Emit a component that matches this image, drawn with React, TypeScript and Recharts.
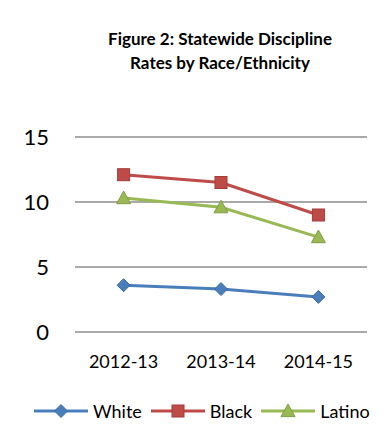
import React from "react";
import { LineChart, Line, XAxis, YAxis, CartesianGrid, Legend } from "recharts";

const years = ["2012-13", "2013-14", "2014-15"];
const white = [3.6, 3.3, 2.7];
const black = [12.1, 11.5, 9.0];
const latino = [10.3, 9.6, 7.3];
const yTicks = [0, 5, 10, 15];

const data = years.map((year, i) => ({
  year,
  White: white[i],
  Black: black[i],
  Latino: latino[i],
}));

const FONT = "Lato, 'Open Sans', sans-serif";

type MarkerKind = "diamond" | "square" | "triangle";

const series: { key: string; color: string; edge: string; marker: MarkerKind }[] = [
  { key: "White", color: "#4a7ebb", edge: "#3c6aa3", marker: "diamond" },
  { key: "Black", color: "#be4b48", edge: "#a33d3a", marker: "square" },
  { key: "Latino", color: "#98b954", edge: "#7f9d44", marker: "triangle" },
];

function markerShape(kind: MarkerKind, cx: number, cy: number, fill: string, edge: string) {
  if (kind === "diamond") {
    const r = 6.5;
    return (
      <path
        d={`M${cx},${cy - r}L${cx + r},${cy}L${cx},${cy + r}L${cx - r},${cy}Z`}
        fill={fill}
        stroke={edge}
        strokeWidth={1}
      />
    );
  }
  if (kind === "square") {
    const r = 6;
    return <rect x={cx - r} y={cy - r} width={r * 2} height={r * 2} fill={fill} stroke={edge} strokeWidth={1} />;
  }
  const r = 7;
  return (
    <path
      d={`M${cx},${cy - r}L${cx + r},${cy + r * 0.8}L${cx - r},${cy + r * 0.8}Z`}
      fill={fill}
      stroke={edge}
      strokeWidth={1}
    />
  );
}

function makeDot(kind: MarkerKind, fill: string, edge: string) {
  return (props: any) => {
    const { cx, cy, index } = props;
    if (cx == null || cy == null) return <g key={`dot-${kind}-${index}`} />;
    return <g key={`dot-${kind}-${index}`}>{markerShape(kind, cx, cy, fill, edge)}</g>;
  };
}

function LegendContent() {
  return (
    <div style={{ display: "flex", alignItems: "center", paddingLeft: 34, height: 24, fontFamily: FONT, fontSize: 18, color: "#000" }}>
      {series.map((s) => (
        <div key={s.key} style={{ display: "flex", alignItems: "center", marginRight: 9 }}>
          <svg width={54} height={16}>
            <line x1={0} y1={8} x2={54} y2={8} stroke={s.color} strokeWidth={3} />
            {markerShape(s.marker, 27, 8, s.color, s.edge)}
          </svg>
          <span style={{ marginLeft: 5, lineHeight: "24px" }}>{s.key}</span>
        </div>
      ))}
    </div>
  );
}

export default function App() {
  return (
    <div style={{ position: "relative", width: 392, height: 447, margin: -8, background: "#fff", overflow: "hidden" }}>
      {/* frame */}
      <div
        style={{
          position: "absolute",
          left: 5,
          top: 6,
          width: 400,
          height: 438,
          borderLeft: "2px solid #8a8a8a",
          borderTop: "1px solid #8a8a8a",
          borderBottom: "1px solid #c8c8c8",
        }}
      />
      <div
        style={{
          position: "absolute",
          left: 70,
          top: 27,
          width: 300,
          textAlign: "center",
          fontFamily: FONT,
          fontWeight: 700,
          fontSize: 17,
          lineHeight: "24px",
          color: "#000",
        }}
      >
        Figure 2: Statewide Discipline
        <br />
        Rates by Race/Ethnicity
      </div>
      <div style={{ position: "absolute", left: 0, top: 0 }}>
        <LineChart width={392} height={447} data={data} margin={{ top: 137, right: 25, left: 0, bottom: 75 }}>
          <CartesianGrid horizontal vertical={false} stroke="#8c8c8c" strokeWidth={1.3} />
          <XAxis
            dataKey="year"
            axisLine={false}
            tickLine={false}
            interval={0}
            padding={{ left: 48.6, right: 48.6 }}
            tickMargin={17}
            height={40}
            tick={{ fontFamily: FONT, fontSize: 18, fill: "#000" }}
          />
          <YAxis
            domain={[0, 15]}
            ticks={yTicks}
            axisLine={false}
            tickLine={false}
            width={75}
            tickMargin={20}
            tick={{ fontFamily: FONT, fontSize: 22, fill: "#000" }}
          />
          <Legend
            verticalAlign="middle"
            layout="horizontal"
            content={<LegendContent />}
            wrapperStyle={{ top: 399, left: 0, width: 392, height: 24 }}
          />
          {series.map((s) => (
            <Line
              key={s.key}
              dataKey={s.key}
              stroke={s.color}
              strokeWidth={3}
              dot={makeDot(s.marker, s.color, s.edge)}
              activeDot={false}
              isAnimationActive={false}
            />
          ))}
        </LineChart>
      </div>
    </div>
  );
}
